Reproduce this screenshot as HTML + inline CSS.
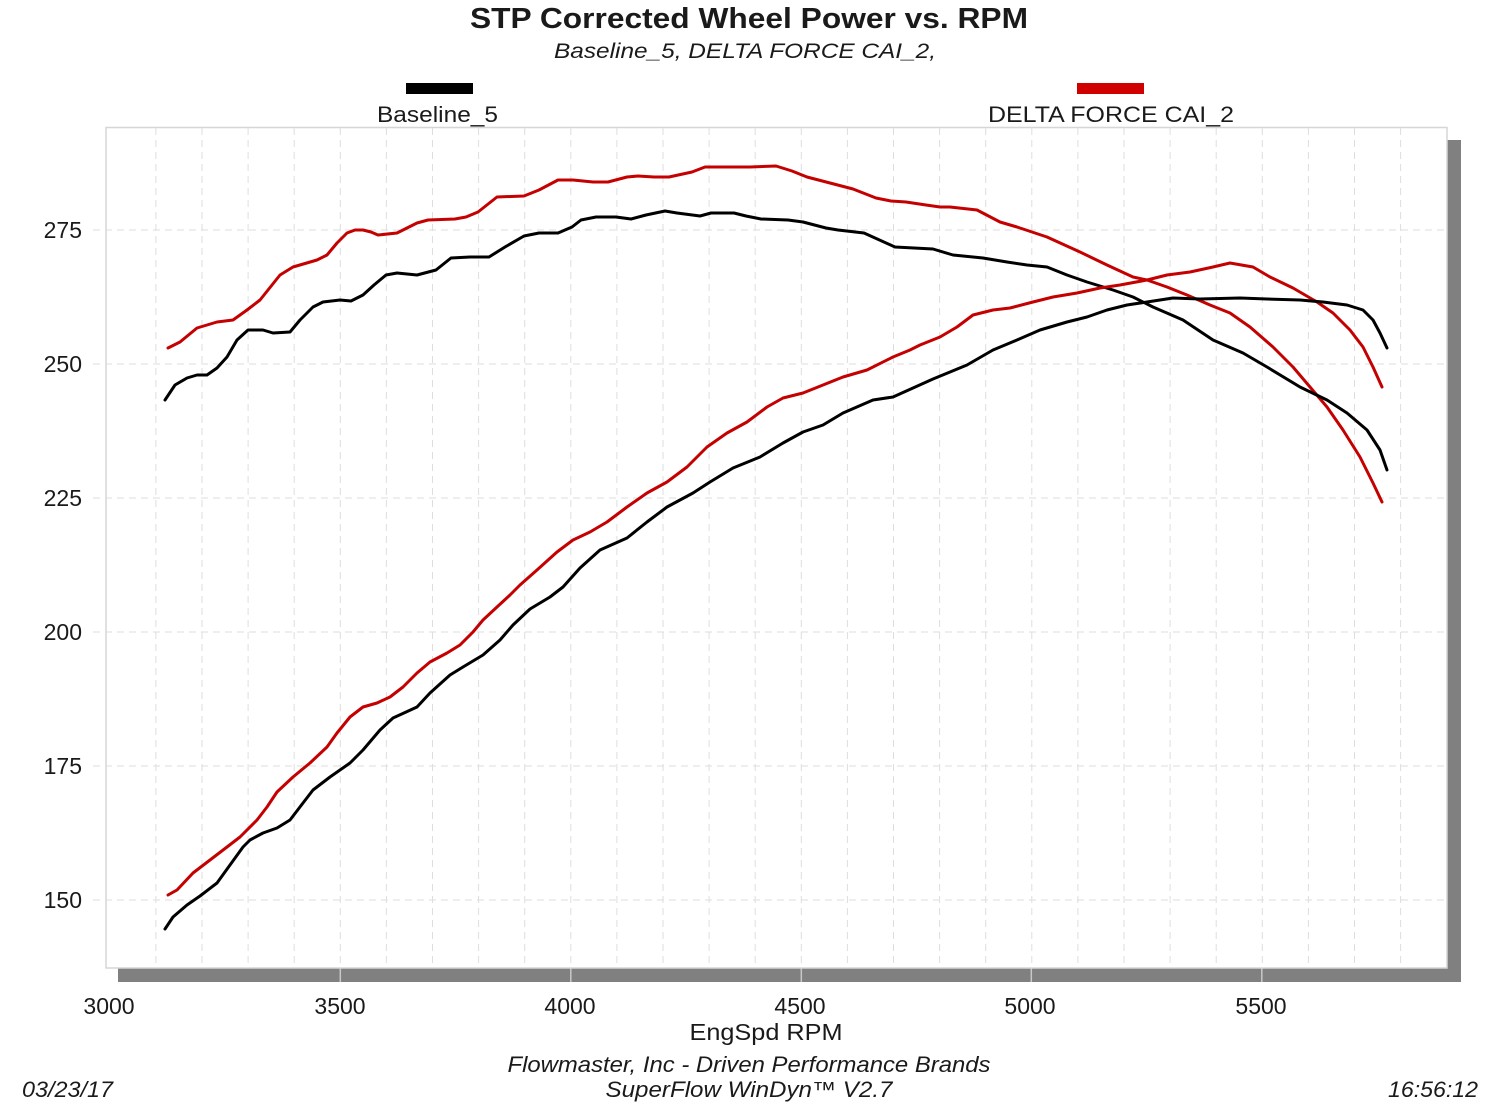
<!DOCTYPE html>
<html>
<head>
<meta charset="utf-8">
<style>
html,body{margin:0;padding:0;background:#fff;}
svg{display:block;}
text{font-family:"Liberation Sans",Arial,sans-serif;fill:#1a1a1a;}
</style>
</head>
<body>
<svg width="1500" height="1103" viewBox="0 0 1500 1103" xmlns="http://www.w3.org/2000/svg">
<rect x="0" y="0" width="1500" height="1103" fill="#fff"/>

<!-- Titles -->
<text x="749" y="28" font-size="29" font-weight="bold" text-anchor="middle" textLength="558" lengthAdjust="spacingAndGlyphs">STP Corrected Wheel Power vs. RPM</text>
<text x="745" y="58" font-size="21" font-style="italic" text-anchor="middle" textLength="382" lengthAdjust="spacingAndGlyphs">Baseline_5, DELTA FORCE CAI_2,</text>

<!-- Legend -->
<rect x="406" y="83" width="67" height="11" fill="#000"/>
<text x="377" y="122" font-size="22" textLength="121" lengthAdjust="spacingAndGlyphs">Baseline_5</text>
<rect x="1077" y="83" width="67" height="11" fill="#d00000"/>
<text x="988" y="122" font-size="22" textLength="246" lengthAdjust="spacingAndGlyphs">DELTA FORCE CAI_2</text>

<!-- Shadow -->
<rect x="118" y="968" width="1343" height="14" fill="#808080"/>
<rect x="1447" y="140" width="14" height="842" fill="#808080"/>
<g stroke="#c8c8c8" stroke-width="1.5">
<line x1="340.3" y1="968" x2="340.3" y2="982"/>
<line x1="570.8" y1="968" x2="570.8" y2="982"/>
<line x1="801.3" y1="968" x2="801.3" y2="982"/>
<line x1="1031.3" y1="968" x2="1031.3" y2="982"/>
<line x1="1261.8" y1="968" x2="1261.8" y2="982"/>
</g>

<!-- Plot area -->
<rect x="106" y="127.5" width="1341" height="840.5" fill="#fff" stroke="#d6d6d6" stroke-width="1.5"/>

<!-- Grid -->
<g stroke="#dedede" stroke-width="1" stroke-dasharray="7,5" fill="none">
<line x1="155.9" y1="128" x2="155.9" y2="968"/>
<line x1="202.0" y1="128" x2="202.0" y2="968"/>
<line x1="248.1" y1="128" x2="248.1" y2="968"/>
<line x1="294.2" y1="128" x2="294.2" y2="968"/>
<line x1="340.3" y1="128" x2="340.3" y2="968"/>
<line x1="386.4" y1="128" x2="386.4" y2="968"/>
<line x1="432.5" y1="128" x2="432.5" y2="968"/>
<line x1="478.6" y1="128" x2="478.6" y2="968"/>
<line x1="524.7" y1="128" x2="524.7" y2="968"/>
<line x1="570.8" y1="128" x2="570.8" y2="968"/>
<line x1="616.9" y1="128" x2="616.9" y2="968"/>
<line x1="663.0" y1="128" x2="663.0" y2="968"/>
<line x1="709.1" y1="128" x2="709.1" y2="968"/>
<line x1="755.2" y1="128" x2="755.2" y2="968"/>
<line x1="801.3" y1="128" x2="801.3" y2="968"/>
<line x1="847.4" y1="128" x2="847.4" y2="968"/>
<line x1="893.5" y1="128" x2="893.5" y2="968"/>
<line x1="939.6" y1="128" x2="939.6" y2="968"/>
<line x1="985.7" y1="128" x2="985.7" y2="968"/>
<line x1="1031.8" y1="128" x2="1031.8" y2="968"/>
<line x1="1077.9" y1="128" x2="1077.9" y2="968"/>
<line x1="1124.0" y1="128" x2="1124.0" y2="968"/>
<line x1="1170.1" y1="128" x2="1170.1" y2="968"/>
<line x1="1216.2" y1="128" x2="1216.2" y2="968"/>
<line x1="1262.3" y1="128" x2="1262.3" y2="968"/>
<line x1="1308.4" y1="128" x2="1308.4" y2="968"/>
<line x1="1354.5" y1="128" x2="1354.5" y2="968"/>
<line x1="1400.6" y1="128" x2="1400.6" y2="968"/>
<line x1="93" y1="230" x2="1447" y2="230"/>
<line x1="93" y1="364" x2="1447" y2="364"/>
<line x1="93" y1="498" x2="1447" y2="498"/>
<line x1="93" y1="632" x2="1447" y2="632"/>
<line x1="93" y1="766" x2="1447" y2="766"/>
<line x1="93" y1="900" x2="1447" y2="900"/>
</g>

<!-- Y labels -->
<g font-size="23" text-anchor="end">
<text x="82" y="238">275</text>
<text x="82" y="372">250</text>
<text x="82" y="506">225</text>
<text x="82" y="640">200</text>
<text x="82" y="774">175</text>
<text x="82" y="908">150</text>
</g>

<!-- X labels -->
<g font-size="23" text-anchor="middle">
<text x="109" y="1014">3000</text>
<text x="340" y="1014">3500</text>
<text x="570" y="1014">4000</text>
<text x="800" y="1014">4500</text>
<text x="1030" y="1014">5000</text>
<text x="1261" y="1014">5500</text>
<text x="766" y="1040" textLength="153" lengthAdjust="spacingAndGlyphs">EngSpd  RPM</text>
</g>

<!-- Footer -->
<text x="749" y="1072" font-size="22" font-style="italic" text-anchor="middle" textLength="483" lengthAdjust="spacingAndGlyphs">Flowmaster, Inc - Driven Performance Brands</text>
<text x="749" y="1097" font-size="22" font-style="italic" text-anchor="middle" textLength="287" lengthAdjust="spacingAndGlyphs">SuperFlow  WinDyn™ V2.7</text>
<text x="22" y="1097" font-size="22" font-style="italic" textLength="91" lengthAdjust="spacingAndGlyphs">03/23/17</text>
<text x="1478" y="1097" font-size="22" font-style="italic" text-anchor="end" textLength="90" lengthAdjust="spacingAndGlyphs">16:56:12</text>

<!-- Series -->
<g fill="none" stroke-width="3" stroke-linejoin="round" stroke-linecap="round">
<polyline stroke="#c40000" points="168,348 180,342 197,328 217,322 233,320 247,310 260,300 280,275 293,267 317,260 327,255 337,243 347,233 355,230 363,230 371,232 378,235 397,233 417,223 428,220 455,219 466,217 478,212 497,197 524,196 539,190 558,180 573,180 593,182 608,182 627,177 638,176 654,177 669,177 692,172 705,167 750,167 776,166 792,171 807,177 830,183 853,189 876,198 891,201 906,202 926,205 940,207 950,207 977,210 1000,222 1017,227 1047,237 1080,252 1107,265 1133,277 1147,280 1167,287 1187,295 1210,305 1230,313 1250,327 1273,347 1293,367 1310,387 1327,407 1343,430 1360,457 1373,483 1382,502"/>
<polyline stroke="#000" points="165,400 175,385 187,378 197,375 207,375 217,368 227,357 237,340 248,330 263,330 273,333 290,332 300,320 313,307 323,302 340,300 351,301 363,295 374,285 386,275 397,273 417,275 436,270 451,258 470,257 489,257 505,247 524,236 539,233 558,233 572,227 581,220 596,217 616,217 631,219 646,215 665,211 677,213 700,216 711,213 734,213 746,216 761,219 788,220 803,222 826,228 838,230 864,233 895,247 914,248 933,249 953,255 983,258 1007,262 1027,265 1047,267 1067,275 1087,282 1113,290 1133,297 1153,307 1183,320 1213,340 1243,353 1267,367 1300,387 1327,400 1347,413 1367,430 1380,450 1387,470"/>
<polyline stroke="#c40000" points="168,895 177,890 193,873 210,860 227,847 240,837 257,820 267,807 277,792 293,777 310,763 327,747 337,733 350,717 363,707 377,703 390,697 403,687 417,673 430,662 447,653 460,645 473,632 483,620 497,607 510,595 520,585 537,570 557,552 573,540 590,532 607,522 627,507 647,493 667,482 687,467 707,447 727,433 747,422 767,407 783,398 803,393 823,385 843,377 867,370 893,357 910,350 920,345 940,337 957,327 973,315 993,310 1010,308 1033,302 1053,297 1077,293 1100,288 1120,285 1147,280 1167,275 1190,272 1213,267 1230,263 1253,267 1270,277 1293,288 1317,302 1333,313 1350,330 1363,347 1373,367 1382,387"/>
<polyline stroke="#000" points="165,929 173,917 187,905 200,896 217,883 230,865 243,847 250,840 263,833 277,828 290,820 303,803 313,790 330,777 350,763 363,750 380,730 393,718 417,707 430,693 450,675 463,667 483,655 500,640 513,625 530,609 550,597 563,587 580,568 600,550 627,538 647,522 667,507 693,493 710,482 733,468 760,457 783,443 803,432 823,425 843,413 873,400 893,397 913,388 933,379 950,372 967,365 993,350 1017,340 1040,330 1067,322 1087,317 1107,310 1127,305 1147,302 1173,298 1200,299 1240,298 1267,299 1300,300 1323,302 1347,305 1363,310 1373,320 1380,333 1387,348"/>
</g>
</svg>
</body>
</html>
